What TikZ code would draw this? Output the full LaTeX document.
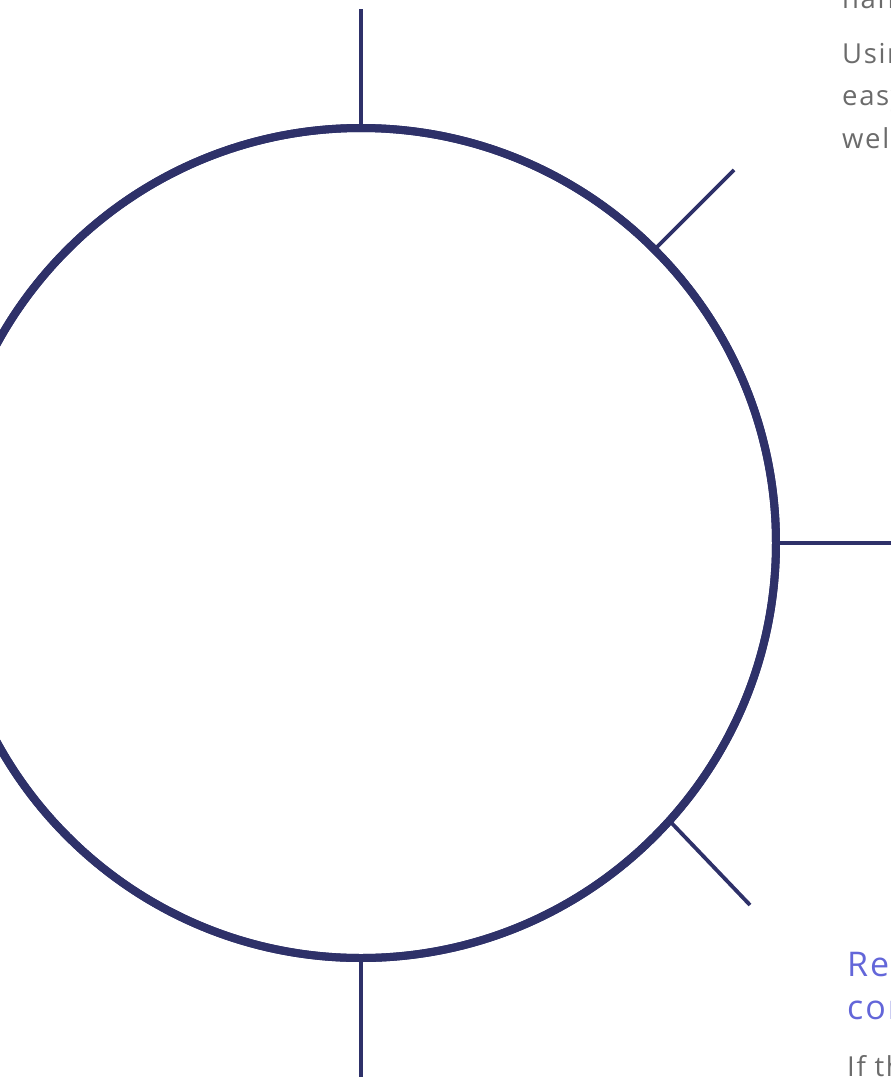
\documentclass[tikz,border=0pt]{standalone}
\usepackage{fontspec}
\setmainfont{Open Sans}[LetterSpace=6]
\definecolor{navy}{HTML}{2E3169}
\definecolor{bodygray}{HTML}{6B6B6B}
\definecolor{headblue}{HTML}{6366D9}
\tikzset{
  ring/.style={circle, draw=navy, line width=8pt, minimum size=830pt, inner sep=0pt, outer sep=0pt},
  tick/.style={draw=navy, line width=3.8pt},
  body/.style={anchor=base west, inner sep=0pt, text=bodygray, font=\fontsize{27.5}{42}\selectfont},
  head/.style={anchor=base west, inner sep=0pt, text=headblue, font=\fontsize{34}{44}\selectfont}
}
\begin{document}
\begin{tikzpicture}[x=1pt,y=-1pt]
\useasboundingbox (0,0) rectangle (891,1077);
\clip (0,0) rectangle (891,1077);
\coordinate (tN) at (361,9);
\coordinate (tNE) at (734,170);
\coordinate (tE) at (895,543);
\coordinate (tSE) at (750,905);
\coordinate (tS) at (361,1081);
\node[ring] (c) at (361,543) {};
\draw[tick] (c.north) -- (tN);
\draw[tick] (c.45) -- (tNE);
\draw[tick] (c.east) -- (tE);
\draw[tick] (c.-42.6) -- (tSE);
\draw[tick] (c.south) -- (tS);
\node[ring] (c2) at (361,543) {};
\node[body] (t0) at (842,8) {hand};
\node[body] (t1) at (842,63) {Using};
\node[body] (t2) at (842,105.5) {easy};
\node[body] (t3) at (842,148) {well};
\node[head] (h1) at (847,976) {Rec};
\node[head] (h2) at (847,1019) {con};
\node[body] (t4) at (847,1076) {If the};
\end{tikzpicture}
\end{document}
